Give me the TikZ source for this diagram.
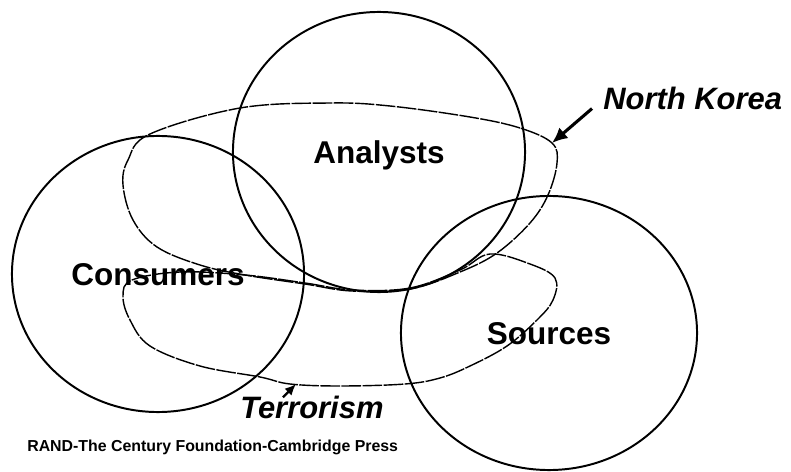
\documentclass[tikz,border=0pt]{standalone}
\usepackage{fontspec}
\setmainfont{Liberation Sans}
\usepackage{tikz}
\usetikzlibrary{arrows.meta,shapes.geometric}

\begin{document}
\begin{tikzpicture}[>={Latex[length=11pt,width=10pt]}, x=0.025cm, y=-0.025cm,
    ring/.style={ellipse, draw, line width=1.4pt, inner sep=0pt, text height=16pt, text depth=0pt, font=\bfseries\fontsize{22.4}{24}\selectfont},
    issue/.style={line width=1pt, dash pattern=on 14pt off 1pt},
    tag/.style={anchor=base west, inner sep=0pt, font=\bfseries\itshape\fontsize{22}{24}\selectfont}]

  \useasboundingbox (0,0) rectangle (791,472);

  % the two issue loops
  \draw[issue] plot[smooth cycle, tension=0.6] coordinates {(552,143) (520,128) (470,117) (390,106) (330,103) (240,108) (150,134) (128,160) (123,185) (133,220) (157,247) (200,265) (245,275) (305,284) (352,291) (410,289) (460,272) (497,253) (530,223) (548,195) (557,163)};
  \draw[issue] plot[smooth cycle, tension=0.6] coordinates {(245,275) (305,283) (352,290) (410,288) (460,270) (490,254) (530,264) (555,278) (553,300) (537,320) (507,346) (470,366) (440,378) (405,384) (340,386) (290,384) (260,377) (200,366) (150,346) (130,320) (123,296) (132,280) (180,272)};

  % the three circles
  \draw (379,152) node[ring, minimum width=7.3cm, minimum height=7cm] (analysts) {Analysts};
  \draw (158,274) node[ring, minimum width=7.3cm, minimum height=6.9cm] (consumers) {Consumers};
  \draw (549,333) node[ring, minimum width=7.4cm, minimum height=6.85cm] (sources) {Sources};

  % issue labels
  \draw (603,110) node[tag] (korea) {North Korea};
  \draw (240,418) node[tag] (terror) {Terrorism};
  \coordinate (koreatip) at (552,143);
  \coordinate (terrortip) at (296,384);
  \draw[->, line width=2.2pt] ([shift={(-11,-2)}]korea.south west) -- (koreatip);
  \draw[-{Latex[length=8pt,width=7pt]}, line width=1.6pt] ([shift={(43,2)}]terror.north west) -- (terrortip);

  \draw (27,451) node[anchor=base west, inner sep=0pt, font=\bfseries\fontsize{11.3}{13}\selectfont] (credit) {RAND-The Century Foundation-Cambridge Press};
\end{tikzpicture}
\end{document}
